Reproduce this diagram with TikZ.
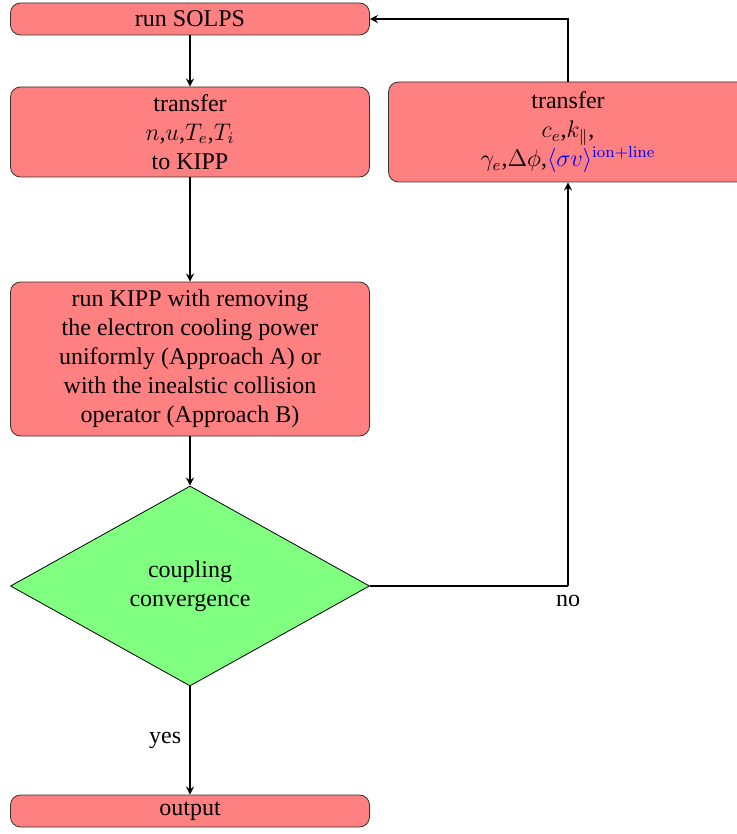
\documentclass[tikz,border=0pt,12pt]{standalone}
\usepackage{amsmath}
\usepackage{amssymb}
\usepackage[no-math]{fontspec}
\setmainfont{Liberation Serif}
\usetikzlibrary{shapes.geometric,arrows,positioning}

\tikzset{
    stepbox/.style={rectangle,rounded corners=5pt,draw=black!80,fill=red!50,
        minimum width=179.5pt,align=center,inner sep=0pt},
    decide/.style={diamond,draw=black,fill=green!50,aspect=2,
        minimum width=179.5pt,minimum height=100pt,align=center,inner sep=0pt},
    flow/.style={-stealth,thick}
}

\begin{document}
\begin{tikzpicture}[x=0.5pt,y=-0.5pt]
    \useasboundingbox (0,0) rectangle (737,834); % Fixes the picture size...

    \node[stepbox,minimum height=16pt] (solps) at (190,19) {run SOLPS};
    \node[stepbox,minimum height=45pt] (tokipp) at (190,132) {transfer\\ $n$,$u$,$T_e$,$T_i$\\ to KIPP};
    \node[stepbox,minimum height=77pt] (kipp) at (190,359) {run KIPP with removing\\ the electron cooling power\\ uniformly (Approach A) or\\ with the inealstic collision\\ operator (Approach B)};
    \node[decide] (conv) at (190,586) {coupling\\ convergence};
    \node[stepbox,minimum height=16pt] (out) at (190,811) {output};
    \node[stepbox,minimum height=50pt] (tosolps) at (568,132) {transfer\\ $c_e$,$k_\parallel$,\\ $\gamma_e$,$\Delta\phi$,{\color{blue}$\langle\sigma v\rangle^{\mathrm{ion+line}}$}};

    \coordinate (corner) at (568,586);

	\draw[flow] (solps) -- (tokipp);
	\draw[flow] (tokipp) -- (kipp);
	\draw[flow] (kipp) -- (conv);
	\draw[flow] (conv) -- node[left] {yes} (out);
	\draw[thick] (conv.east) -- (corner) node[below] {no};
	\draw[flow] (corner) -- (tosolps);
	\draw[flow] (tosolps.north) |- (solps.east);
  \end{tikzpicture}
\end{document}
